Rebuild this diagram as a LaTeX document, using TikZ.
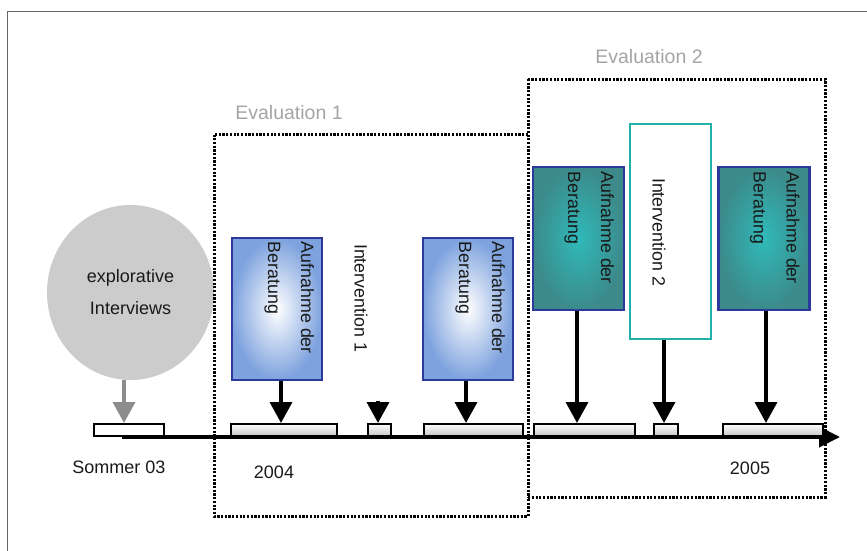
\documentclass[tikz,border=0pt]{standalone}
\usepackage{fontspec}
\setmainfont{Liberation Sans}
\usetikzlibrary{arrows.meta,shapes.geometric}

\definecolor{boxblue}{RGB}{43,58,154}
\definecolor{lightblue}{RGB}{125,162,222}
\definecolor{tealout}{RGB}{60,138,138}
\definecolor{tealin}{RGB}{48,185,185}
\definecolor{tealline}{RGB}{31,177,170}
\definecolor{evalgray}{RGB}{165,165,165}

\begin{document}
\begin{tikzpicture}[x=1pt,y=-1pt,
	bluebox/.style={draw=boxblue, line width=2.5pt,
		inner color=white, outer color=lightblue,
		minimum width=90pt, minimum height=142pt},
	tealbox/.style={draw=boxblue, line width=2.5pt,
		inner color=tealin, outer color=tealout,
		minimum width=91pt, minimum height=143pt},
	bar/.style={draw=black, line width=2pt, top color=white,
		bottom color=black!22, minimum height=12pt, inner sep=0pt},
	evalbox/.style={draw=black, line width=3pt,
		dash pattern=on 2.2pt off 1.5pt},
	vtext/.style={rotate=-90, text=black!90,
		font=\fontsize{17.8}{33}\selectfont, align=left, inner sep=0pt},
	pointer/.style={line width=3.5pt, -{Triangle[width=22pt,length=21pt]}},
	evaltext/.style={text=evalgray, font=\fontsize{19.5}{22}\selectfont},
	yeartext/.style={text=black!90, font=\fontsize{18}{22}\selectfont}]
	
	\useasboundingbox (0,0) rectangle (867,551);
	\draw[black!60, line width=1pt] (7,551) -- (7,12) -- (867,12);
	
	% timeline
	\coordinate (t0) at (122,437);
	\coordinate (t1) at (840,437);
	\draw[line width=4.2pt, -{Triangle[width=20pt,length=21pt]}] (t0) -- (t1);
	
	\node [bar, fill=white, top color=white, bottom color=white,
		   minimum width=70pt] (b0) at (129,430){};
	\node [bar, minimum width=106pt] (b1) at (284,430){};
	\node [bar, minimum width=23pt] (b2) at (379.5,430){};
	\node [bar, minimum width=99pt] (b3) at (473.5,430){};
	\node [bar, minimum width=101pt] (b4) at (584.5,430){};
	\node [bar, minimum width=24pt] (b5) at (666,430){};
	\node [bar, minimum width=100pt] (b6) at (773,430){};
	
	% boxes
	\node [ellipse, fill=black!20,
		   minimum width=167pt, minimum height=175pt,
		   align=center, text=black!90,
		   font=\fontsize{18}{32}\selectfont] (expl) at (130.5,292.5){explorative\\Interviews};
	\node [bluebox] (a1) at (277,309){};
	\node [bluebox] (a2) at (468,309){};
	\node [tealbox] (a3) at (578.5,238.5){};
	\node [tealbox] (a4) at (764,238.5){};
	\node [draw=tealline, line width=2.5pt, fill=white,
		   minimum width=81pt, minimum height=215pt] (i2) at (670.5,231.5){};
	
	\node [vtext, anchor=north west] (a1txt) at ([shift={(-9,5)}]a1.north east){Aufnahme der\\Beratung};
	\node [vtext, anchor=north west] (a2txt) at ([shift={(-9,5)}]a2.north east){Aufnahme der\\Beratung};
	\node [vtext, anchor=north west] (a3txt) at ([shift={(-11,6)}]a3.north east){Aufnahme der\\Beratung};
	\node [vtext, anchor=north west] (a4txt) at ([shift={(-11,6)}]a4.north east){Aufnahme der\\Beratung};
	\node [vtext] (i1) at (361,298){Intervention 1};
	\node [vtext] (i2txt) at (659,232){Intervention 2};
	
	% arrows
	\draw[pointer, black!45] ([xshift=-6.5pt]expl.south) -- ([xshift=-6.5pt]expl.south |- b0.north);
	\draw[pointer] ([xshift=4pt]a1.south) -- ([xshift=4pt]a1.south |- b1.north);
	\draw[pointer] ([shift={(-1.5,-22)}]b2.north) -- ([xshift=-1.5pt]b2.north);
	\draw[pointer] ([xshift=-2pt]a2.south) -- ([xshift=-2pt]a2.south |- b3.north);
	\draw[pointer] ([xshift=-1.5pt]a3.south) -- ([xshift=-1.5pt]a3.south |- b4.north);
	\draw[pointer] ([xshift=-6.5pt]i2.south) -- ([xshift=-6.5pt]i2.south |- b5.north);
	\draw[pointer] ([xshift=2pt]a4.south) -- ([xshift=2pt]a4.south |- b6.north);
	
	% evaluations (shared edge drawn once)
	\draw[evalbox] (528,134) -- (214,134) -- (214,516) -- (528,516) -- (528,497);
	\draw[evalbox] (528,79) rectangle (825,497);
	\node [evaltext] (ev1) at (289,113){Evaluation 1};
	\node [evaltext] (ev2) at (649,57){Evaluation 2};
	
	\node [yeartext] (so) at (119,467){Sommer 03};
	\node [yeartext] (y4) at (274,472){2004};
	\node [yeartext] (y5) at (750,468){2005};
	
\end{tikzpicture}
\end{document}
